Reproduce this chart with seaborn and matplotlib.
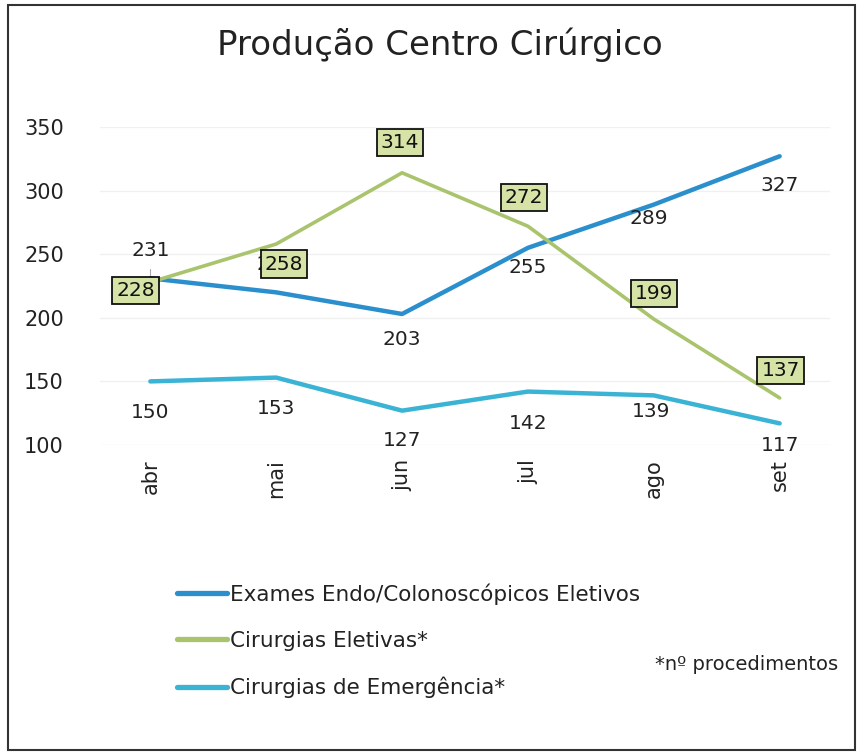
import matplotlib
matplotlib.use("Agg")
import matplotlib.pyplot as plt
import seaborn as sns
import pandas as pd
from matplotlib.lines import Line2D
from matplotlib.patches import Rectangle

months = ["abr", "mai", "jun", "jul", "ago", "set"]
exames = [231, 220, 203, 255, 289, 327]
eletivas = [228, 258, 314, 272, 199, 137]
emergencia = [150, 153, 127, 142, 139, 117]
series_names = ["Exames Endo/Colonoscópicos Eletivos", "Cirurgias Eletivas*", "Cirurgias de Emergência*"]
yticks = [100, 150, 200, 250, 300, 350]

colors = ["#2a8fcc", "#a9c46c", "#3ab3d4"]
widths = [3.2, 2.6, 3.2]

df = pd.DataFrame({"mes": months * 3,
                   "valor": exames + eletivas + emergencia,
                   "serie": [series_names[0]] * 6 + [series_names[1]] * 6 + [series_names[2]] * 6})
df["x"] = df["mes"].map({m: i for i, m in enumerate(months)})

sns.set_style("white")
plt.rcParams["font.family"] = ["DejaVu Sans"]

fig = plt.figure(figsize=(8.58, 7.53), dpi=100)
ax = fig.add_axes([100 / 858, 308 / 753, 730 / 858, 318 / 753])

for name, c, lw in zip(series_names, colors, widths):
    sub = df[df["serie"] == name]
    sns.lineplot(data=sub, x="x", y="valor", ax=ax, color=c, linewidth=lw, legend=False, zorder=3)

ax.set_xlim(-0.4, 5.4)
ax.set_ylim(100, 350)
ax.set_yticks(yticks)
ax.set_xticks(range(len(months)))
ax.set_xticklabels(months, rotation=90)
ax.tick_params(axis="both", labelsize=15, colors="#222222", length=0)
ax.tick_params(axis="y", pad=26)
ax.tick_params(axis="x", pad=10)
ax.set_xlabel("")
ax.set_ylabel("")
for s in ax.spines.values():
    s.set_visible(False)
ax.yaxis.grid(True, color="#f0f0f0", linewidth=1)
ax.set_axisbelow(True)

# Labels: offsets in pixels
off_ex = [(0, 28), (0, 28), (0, -26), (0, -20), (-5, -14), (0, -29)]
off_el = [(-15, -8), (8, -20), (-2, 30), (-4, 29), (0, 26), (1, 27)]
off_em = [(0, -31), (0, -31), (0, -30), (0, -32), (-3, -16), (0, -22)]

fs_lab = 14.5
for i, v in enumerate(exames):
    ax.annotate(str(v), (i, v), xytext=off_ex[i], textcoords="offset pixels",
                ha="center", va="center", fontsize=fs_lab, color="#222222", zorder=4)
ax.plot([0, 0], [231, 238], color="#aaaaaa", linewidth=0.8, zorder=4)
for i, v in enumerate(emergencia):
    ax.annotate(str(v), (i, v), xytext=off_em[i], textcoords="offset pixels",
                ha="center", va="center", fontsize=fs_lab, color="#222222", zorder=4)
for i, v in enumerate(eletivas):
    ax.annotate(str(v), (i, v), xytext=off_el[i], textcoords="offset pixels",
                ha="center", va="center", fontsize=fs_lab, color="#111111", zorder=6,
                bbox=dict(boxstyle="square,pad=0.2", facecolor="#d6e3a6", edgecolor="#111111", linewidth=1.3))

fig.text(440 / 858, 1 - 45 / 753, "Produção Centro Cirúrgico", fontsize=24.5, color="#222222",
         ha="center", va="center")

handles = [Line2D([0], [0], color=c, linewidth=3.8) for c in colors]
fig.legend(handles, series_names, loc="upper left", bbox_to_anchor=(158 / 858, 1 - 564 / 753),
           frameon=False, fontsize=15.5, handlelength=2.3, handletextpad=0.14, labelspacing=1.2,
           labelcolor="#222222", borderpad=0.4)
fig.text(838 / 858, 1 - 665 / 753, "*nº procedimentos", fontsize=14, color="#222222",
         ha="right", va="center")

fig.patches.append(Rectangle((8 / 858, 3 / 753), 847 / 858, 745 / 753, transform=fig.transFigure,
                             fill=False, edgecolor="#333333", linewidth=1.5))

fig.savefig("out.png", dpi=100)
